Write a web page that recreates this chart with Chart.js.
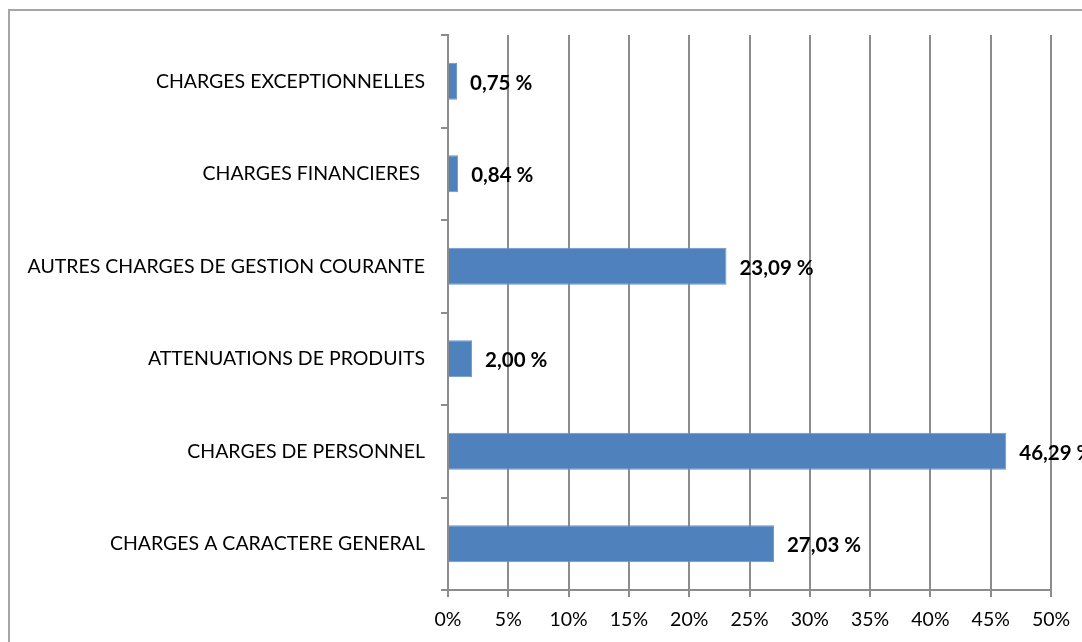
<!DOCTYPE html>
<html>
<head>
<meta charset="utf-8">
<script src="https://cdn.jsdelivr.net/npm/chart.js@4/dist/chart.umd.min.js"></script>
<style>
    html, body { margin: 0; padding: 0; background: #fff; overflow: hidden; }
    #frame {
        position: absolute; left: 8px; top: 9px;
        width: 1100px; height: 700px;
        border: 2px solid #a6a6a6;
    }
    #wrap { position: absolute; left: 0; top: 0; width: 1082px; height: 642px; }
</style>
</head>
<body>
<div id="frame"></div>
<div id="wrap"><canvas id="chargesChart" width="1082" height="642"></canvas></div>
<script>
// Répartition des charges (en %)
const categories = [
    'CHARGES EXCEPTIONNELLES',
    'CHARGES FINANCIERES ',
    'AUTRES CHARGES DE GESTION COURANTE',
    'ATTENUATIONS DE PRODUITS',
    'CHARGES DE PERSONNEL',
    'CHARGES A CARACTERE GENERAL'
];
const shares = [0.75, 0.84, 23.09, 2.00, 46.29, 27.03];
const xTicks = [0, 5, 10, 15, 20, 25, 30, 35, 40, 45, 50];

const fontFamily = "Lato, 'Open Sans', sans-serif";
const baseFont = { family: fontFamily, size: 19.5 };
const gridGrey = '#8c8c8c';

// draws "27,03 %" style labels to the right of each bar
const valueLabels = {
    id: 'valueLabels',
    afterDatasetsDraw(chart) {
        const ctx = chart.ctx;
        const meta = chart.getDatasetMeta(0);
        ctx.save();
        ctx.font = 'bold 20.5px ' + fontFamily;
        ctx.fillStyle = '#000';
        ctx.textAlign = 'left';
        ctx.textBaseline = 'middle';
        meta.data.forEach((bar, i) => {
            const txt = shares[i].toFixed(2).replace('.', ',') + ' %';
            ctx.fillText(txt, bar.x + 13, bar.y + 2);
        });
        ctx.restore();
    }
};

new Chart(document.getElementById('chargesChart'), {
    type: 'bar',
    data: {
        labels: categories,
        datasets: [{
            data: shares,
            backgroundColor: '#4f81bd',
            borderColor: '#6a96cc',
            borderWidth: 1,
            barPercentage: 0.4,
            categoryPercentage: 1.0
        }]
    },
    options: {
        indexAxis: 'y',
        responsive: false,
        animation: false,
        devicePixelRatio: 1,
        layout: { padding: { left: 0, right: 31, top: 35, bottom: 0 } },
        plugins: {
            legend: { display: false },
            tooltip: { enabled: false }
        },
        scales: {
            x: {
                min: 0,
                max: 50,
                afterBuildTicks: (scale) => { scale.ticks = xTicks.map(v => ({ value: v })); },
                afterFit: (scale) => { scale.height = 52; },
                grid: { color: gridGrey, lineWidth: 2, tickLength: 7, drawTicks: true },
                border: { display: true, color: gridGrey, width: 2 },
                ticks: {
                    color: '#000',
                    font: baseFont,
                    padding: 11,
                    maxRotation: 0,
                    callback: (v) => v + '%'
                }
            },
            y: {
                afterFit: (scale) => { scale.width = 448; },
                grid: { drawOnChartArea: false, drawTicks: true, tickLength: 7, color: gridGrey, lineWidth: 2 },
                border: { display: true, color: gridGrey, width: 2 },
                ticks: { color: '#000', font: baseFont, padding: 16 }
            }
        }
    },
    plugins: [valueLabels]
});
</script>
</body>
</html>
